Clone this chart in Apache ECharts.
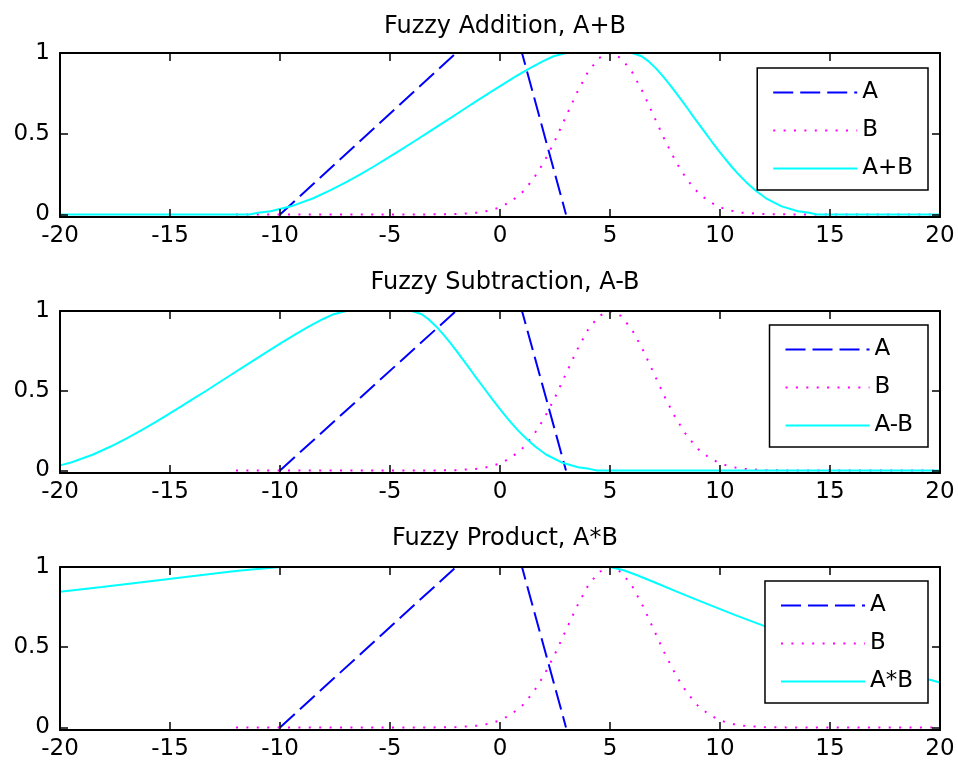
<!DOCTYPE html>
<html>
<head>
<meta charset="utf-8">
<script src="https://cdn.jsdelivr.net/npm/echarts@6/dist/echarts.min.js"></script>
<style>
  html, body { margin: 0; padding: 0; background: #fff; }
  #chart { width: 958px; height: 767px; }
</style>
</head>
<body>
<div id="chart"></div>
<script>
// ---- data ----
const titles = ['Fuzzy Addition, A+B', 'Fuzzy Subtraction, A-B', 'Fuzzy Product, A*B'];
const resultNames = ['A+B', 'A-B', 'A*B'];
const xTicks = [-20, -15, -10, -5, 0, 5, 10, 15, 20];
const yTicks = [0, 0.5, 1];

// fuzzy set A (trapezoid)
const setA = [[-10, 0], [-2, 1], [1, 1], [3, 0]];

// fuzzy set B (bell around 5)
const setB = [
  [-12, 0], [-10, 0], [-8, 0], [-6, 0], [-4, 0.00004], [-3, 0.0003], [-2, 0.002],
  [-1, 0.011], [-0.5, 0.023], [0, 0.044], [0.5, 0.080], [1, 0.135], [1.5, 0.216],
  [2, 0.325], [2.5, 0.458], [3, 0.607], [3.5, 0.755], [4, 0.883], [4.5, 0.969],
  [5, 1], [5.5, 0.969], [6, 0.883], [6.5, 0.755], [7, 0.607], [7.5, 0.458],
  [8, 0.325], [8.5, 0.216], [9, 0.135], [9.5, 0.080], [10, 0.044], [10.5, 0.023],
  [11, 0.011], [12, 0.002], [13, 0.0003], [14, 0.00004], [16, 0], [18, 0], [20, 0]
];

// A+B
const sumAB = [
  [-20, 0], [-11.4, 0], [-10.99, 0.01], [-10.43, 0.02], [-9.50, 0.05], [-8.49, 0.10],
  [-7.70, 0.15], [-6.99, 0.20], [-6.33, 0.25], [-5.70, 0.30], [-5.10, 0.35],
  [-4.51, 0.40], [-3.93, 0.45], [-3.35, 0.50], [-2.79, 0.55], [-2.22, 0.60],
  [-1.66, 0.65], [-1.09, 0.70], [-0.52, 0.75], [0.06, 0.80], [0.66, 0.85],
  [1.28, 0.90], [1.96, 0.95], [2.44, 0.98], [3.0, 1], [6.0, 1], [6.44, 0.98],
  [6.74, 0.95], [7.12, 0.90], [7.44, 0.85], [7.74, 0.80], [8.02, 0.75], [8.29, 0.70],
  [8.56, 0.65], [8.82, 0.60], [9.09, 0.55], [9.36, 0.50], [9.63, 0.45], [9.91, 0.40],
  [10.20, 0.35], [10.50, 0.30], [10.83, 0.25], [11.19, 0.20], [11.60, 0.15],
  [12.09, 0.10], [12.80, 0.05], [13.55, 0.02], [14.05, 0.01], [14.4, 0], [20, 0]
];

// A-B
const diffAB = [
  [-20, 0.032], [-19.50, 0.05], [-18.49, 0.10], [-17.70, 0.15], [-16.99, 0.20],
  [-16.33, 0.25], [-15.70, 0.30], [-15.10, 0.35], [-14.51, 0.40], [-13.93, 0.45],
  [-13.35, 0.50], [-12.79, 0.55], [-12.22, 0.60], [-11.66, 0.65], [-11.09, 0.70],
  [-10.52, 0.75], [-9.94, 0.80], [-9.34, 0.85], [-8.72, 0.90], [-8.04, 0.95],
  [-7.56, 0.98], [-7.0, 1], [-4.0, 1], [-3.56, 0.98], [-3.26, 0.95], [-2.88, 0.90],
  [-2.56, 0.85], [-2.26, 0.80], [-1.98, 0.75], [-1.71, 0.70], [-1.44, 0.65],
  [-1.18, 0.60], [-0.91, 0.55], [-0.64, 0.50], [-0.37, 0.45], [-0.09, 0.40],
  [0.20, 0.35], [0.50, 0.30], [0.83, 0.25], [1.19, 0.20], [1.60, 0.15], [2.09, 0.10],
  [2.80, 0.05], [3.55, 0.02], [4.05, 0.01], [4.4, 0], [20, 0]
];

// A*B
const prodAB = [
  [-20, 0.845], [-18.10, 0.875], [-16.57, 0.90], [-15.05, 0.925], [-13.54, 0.95],
  [-12.31, 0.97], [-11.67, 0.98], [-10, 1], [5, 1], [5.62, 0.98], [6.21, 0.95],
  [7.10, 0.90], [7.98, 0.85], [8.87, 0.80], [9.78, 0.75], [10.70, 0.70],
  [11.66, 0.65], [12.64, 0.60], [13.66, 0.55], [14.71, 0.50], [15.81, 0.45],
  [16.96, 0.40], [18.17, 0.35], [19.45, 0.30], [20, 0.28]
];

const results = [sumAB, diffAB, prodAB];

// ---- layout / style ----
const FONT = 'DejaVu Sans';
const grids = [
  { left: 60, width: 880, top: 53, height: 164 },
  { left: 60, width: 880, top: 311, height: 162 },
  { left: 60, width: 880, top: 567, height: 163 }
];
const titleTops = [10, 266, 522];
const legendTops = [68, 325, 581];
const axisLineStyle = { color: '#000', width: 2 };
const tickStyle = { color: '#000', width: 1.5 };

const option = {
  backgroundColor: '#fff',
  animation: false,
  title: titles.map((t, i) => ({
    text: t,
    left: 500,
    top: titleTops[i],
    textAlign: 'center',
    textStyle: { fontFamily: FONT, fontSize: 24, fontWeight: 'normal', color: '#000' }
  })),
  grid: grids,
  xAxis: [],
  yAxis: [],
  legend: [],
  series: []
};

grids.forEach((g, i) => {
  option.xAxis.push({
    type: 'value', gridIndex: i, position: 'bottom', min: -20, max: 20, interval: 5, z: 5,
    axisLine: { onZero: false, lineStyle: axisLineStyle },
    axisTick: { inside: true, length: 8, lineStyle: tickStyle },
    axisLabel: { fontFamily: FONT, fontSize: 23, color: '#000', margin: 8, customValues: xTicks },
    splitLine: { show: false }
  });
  option.xAxis.push({
    type: 'value', gridIndex: i, position: 'top', min: -20, max: 20, interval: 5, z: 5,
    axisLine: { onZero: false, lineStyle: axisLineStyle },
    axisTick: { inside: true, length: 8, lineStyle: tickStyle },
    axisLabel: { show: false },
    splitLine: { show: false }
  });
  option.yAxis.push({
    type: 'value', gridIndex: i, position: 'left', min: -0.016, max: 1, z: 5,
    axisLine: { show: true, onZero: false, lineStyle: axisLineStyle },
    axisTick: { show: true, inside: true, length: 8, lineStyle: tickStyle, customValues: yTicks },
    axisLabel: { fontFamily: FONT, fontSize: 23, color: '#000', margin: 10,
                 padding: [6, 0, 0, 0], customValues: yTicks },
    splitLine: { show: false }
  });
  option.yAxis.push({
    type: 'value', gridIndex: i, position: 'right', min: -0.016, max: 1, z: 5,
    axisLine: { show: true, onZero: false, lineStyle: axisLineStyle },
    axisTick: { show: true, inside: true, length: 8, lineStyle: tickStyle, customValues: yTicks },
    axisLabel: { show: false },
    splitLine: { show: false }
  });

  const xi = i * 2, yi = i * 2;
  option.series.push({
    name: 'A', type: 'line', xAxisIndex: xi, yAxisIndex: yi, data: setA, z: 2,
    symbol: 'none', lineStyle: { color: '#0000ff', width: 2, type: [20, 7] },
    itemStyle: { color: '#0000ff' }
  });
  option.series.push({
    name: 'B', type: 'line', xAxisIndex: xi, yAxisIndex: yi, data: setB, z: 2,
    symbol: 'none', lineStyle: { color: '#ff00ff', width: 2, type: [2, 8.4] },
    itemStyle: { color: '#ff00ff' }
  });
  option.series.push({
    name: resultNames[i], type: 'line', xAxisIndex: xi, yAxisIndex: yi, data: results[i], z: 2,
    symbol: 'none', lineStyle: { color: '#00ffff', width: 2 },
    itemStyle: { color: '#00ffff' }
  });

  option.legend.push({
    orient: 'vertical', right: 30, top: legendTops[i], z: 10,
    data: ['A', 'B', resultNames[i]],
    itemWidth: 84, itemHeight: 23, itemGap: 15,
    padding: [13, 15, 10, 15],
    borderColor: '#000', borderWidth: 1.5, borderRadius: 0, backgroundColor: '#fff',
    selectedMode: false,
    itemStyle: { color: 'rgba(0,0,0,0)', borderWidth: 0, opacity: 0 },
    textStyle: { fontFamily: FONT, fontSize: 23, color: '#000', lineHeight: 23 }
  });
});

const chart = echarts.init(document.getElementById('chart'), null, { renderer: 'canvas' });
chart.setOption(option);
</script>
</body>
</html>
